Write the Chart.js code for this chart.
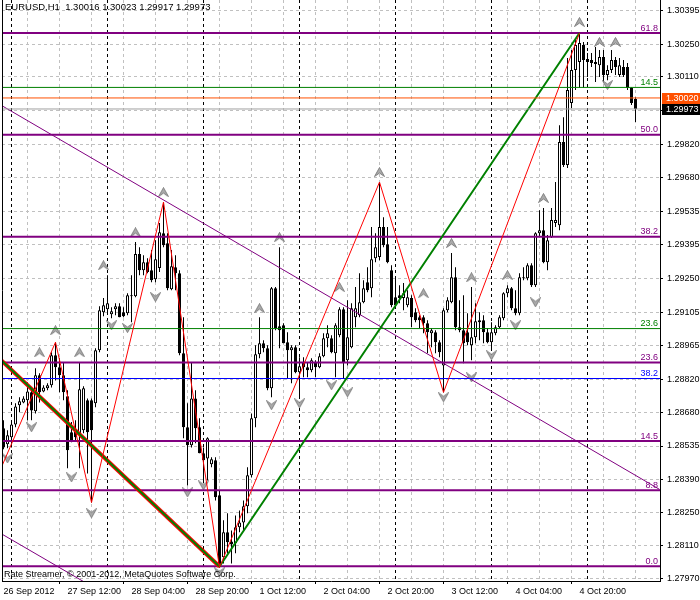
<!DOCTYPE html>
<html>
<head>
<meta charset="utf-8">
<script src="https://cdn.jsdelivr.net/npm/chart.js@4.4.0/dist/chart.umd.min.js"></script>
<style>
  html, body { margin: 0; padding: 0; background: #fff; }
  #wrap { width: 700px; height: 600px; position: relative; }
</style>
</head>
<body>
<div id="wrap"><canvas id="myChart"></canvas></div>
<script>
// EURUSD H1 candles, bar 0 = 26 Sep 2012 20:00
const opens = [
  1.28611, 1.28542, 1.28572, 1.28627, 1.28709, 1.28721, 1.28730, 1.28764, 1.28683, 1.28837,
  1.28768, 1.28781, 1.28794, 1.28922, 1.28871, 1.28837, 1.28747, 1.28594, 1.28602, 1.28589,
  1.28602, 1.28730, 1.28730, 1.28717, 1.28944, 1.29106, 1.29119, 1.29097, 1.29119, 1.29131,
  1.29106, 1.29101, 1.29174, 1.29174, 1.29354, 1.29285, 1.29319, 1.29285, 1.29247, 1.29294,
  1.29443, 1.29400, 1.29204, 1.29298, 1.29272, 1.28931, 1.28615, 1.28538, 1.28738, 1.28615,
  1.28504, 1.28482, 1.28457, 1.28474, 1.28325, 1.28060, 1.28167, 1.28128, 1.28120, 1.28188,
  1.28209, 1.28278, 1.28410, 1.28653, 1.28926, 1.28973, 1.28952, 1.28781, 1.29208, 1.29046,
  1.29050, 1.28978, 1.28944, 1.28956, 1.28850, 1.28892, 1.28871, 1.28858, 1.28892, 1.28871,
  1.28918, 1.28995, 1.28995, 1.28931, 1.29008, 1.29119, 1.28901, 1.28956, 1.29084, 1.29093,
  1.29148, 1.29234, 1.29208, 1.29336, 1.29341, 1.29469, 1.29396, 1.29285, 1.29170, 1.29178,
  1.29166, 1.29136, 1.29166, 1.29106, 1.29084, 1.29084, 1.29059, 1.29016, 1.29020, 1.28978,
  1.28879, 1.29114, 1.29148, 1.29255, 1.29042, 1.29029, 1.29020, 1.28965, 1.28999, 1.29063,
  1.29072, 1.29020, 1.28978, 1.29016, 1.29042, 1.29080, 1.29187, 1.29208, 1.29123, 1.29101,
  1.29251, 1.29251, 1.29306, 1.29221, 1.29443, 1.29456, 1.29319, 1.29426, 1.29486, 1.29477,
  1.29832, 1.29734, 1.29998, 1.30139, 1.30173, 1.30246, 1.30186, 1.30182, 1.30173, 1.30160,
  1.30195, 1.30118, 1.30139, 1.30182, 1.30118, 1.30152, 1.30152, 1.30062, 1.30016
];
const highs = [
  1.28645, 1.28602, 1.28645, 1.28717, 1.28743, 1.28747, 1.28807, 1.28785, 1.28867, 1.28845,
  1.28794, 1.28803, 1.28935, 1.28978, 1.28909, 1.28892, 1.28773, 1.28637, 1.28645, 1.28892,
  1.28790, 1.28738, 1.28738, 1.28952, 1.29131, 1.29166, 1.29264, 1.29127, 1.29144, 1.29144,
  1.29127, 1.29187, 1.29264, 1.29405, 1.29383, 1.29349, 1.29336, 1.29371, 1.29413, 1.29486,
  1.29576, 1.29443, 1.29371, 1.29349, 1.29285, 1.29084, 1.28717, 1.28892, 1.28773, 1.28653,
  1.28529, 1.28572, 1.28487, 1.28487, 1.28346, 1.28218, 1.28248, 1.28175, 1.28239, 1.28260,
  1.28303, 1.28444, 1.28674, 1.28965, 1.29084, 1.28986, 1.28965, 1.29213, 1.29213, 1.29383,
  1.29059, 1.29020, 1.28965, 1.28965, 1.28914, 1.28914, 1.28892, 1.28909, 1.28901, 1.28931,
  1.29016, 1.29050, 1.29008, 1.29059, 1.29127, 1.29127, 1.29157, 1.29144, 1.29213, 1.29272,
  1.29242, 1.29298, 1.29469, 1.29443, 1.29661, 1.29511, 1.29469, 1.29306, 1.29255, 1.29221,
  1.29230, 1.29200, 1.29178, 1.29123, 1.29093, 1.29093, 1.29072, 1.29038, 1.29029, 1.28986,
  1.29123, 1.29170, 1.29358, 1.29298, 1.29157, 1.29178, 1.29101, 1.29213, 1.29144, 1.29106,
  1.29093, 1.29038, 1.29063, 1.29050, 1.29093, 1.29191, 1.29221, 1.29213, 1.29200, 1.29272,
  1.29298, 1.29315, 1.29315, 1.29447, 1.29541, 1.29550, 1.29435, 1.29550, 1.29661, 1.29904,
  1.29938, 1.30190, 1.30225, 1.30267, 1.30297, 1.30259, 1.30212, 1.30212, 1.30237, 1.30225,
  1.30225, 1.30160, 1.30225, 1.30195, 1.30190, 1.30182, 1.30169, 1.30066, 1.30023
];
const lows = [
  1.28521, 1.28525, 1.28529, 1.28615, 1.28679, 1.28717, 1.28645, 1.28645, 1.28674, 1.28721,
  1.28764, 1.28773, 1.28785, 1.28815, 1.28764, 1.28730, 1.28440, 1.28551, 1.28559, 1.28440,
  1.28589, 1.28418, 1.28294, 1.28700, 1.28935, 1.29089, 1.29097, 1.29080, 1.29093, 1.29084,
  1.29084, 1.29093, 1.29063, 1.29170, 1.29264, 1.29264, 1.29272, 1.29234, 1.29234, 1.29277,
  1.29383, 1.29200, 1.29200, 1.29200, 1.28922, 1.28568, 1.28367, 1.28529, 1.28547, 1.28504,
  1.28376, 1.28388, 1.28444, 1.28303, 1.28017, 1.28034, 1.28077, 1.28034, 1.28077, 1.28167,
  1.28175, 1.28248, 1.28401, 1.28615, 1.28909, 1.28935, 1.28773, 1.28743, 1.29029, 1.28952,
  1.28973, 1.28824, 1.28803, 1.28845, 1.28743, 1.28828, 1.28828, 1.28850, 1.28828, 1.28867,
  1.28914, 1.28956, 1.28931, 1.28828, 1.28999, 1.28824, 1.28879, 1.28952, 1.29042, 1.29084,
  1.29144, 1.29191, 1.29170, 1.29319, 1.29328, 1.29383, 1.29315, 1.29127, 1.29127, 1.29144,
  1.29114, 1.29127, 1.29042, 1.29063, 1.29038, 1.29016, 1.28931, 1.28956, 1.28931, 1.28914,
  1.28764, 1.29106, 1.29144, 1.29029, 1.29020, 1.28888, 1.28965, 1.28901, 1.28973, 1.28986,
  1.28973, 1.28973, 1.28952, 1.29008, 1.29038, 1.29072, 1.29170, 1.29114, 1.29093, 1.29093,
  1.29242, 1.29242, 1.29213, 1.29213, 1.29426, 1.29315, 1.29285, 1.29422, 1.29469, 1.29456,
  1.29725, 1.29721, 1.29977, 1.30054, 1.30062, 1.30062, 1.30109, 1.30152, 1.30088, 1.30109,
  1.30088, 1.30096, 1.30126, 1.30118, 1.30109, 1.30109, 1.30054, 1.29990, 1.29917
];
const closes = [
  1.28529, 1.28581, 1.28627, 1.28704, 1.28726, 1.28738, 1.28768, 1.28687, 1.28837, 1.28764,
  1.28785, 1.28794, 1.28922, 1.28871, 1.28837, 1.28764, 1.28517, 1.28559, 1.28572, 1.28777,
  1.28781, 1.28594, 1.28602, 1.28944, 1.29114, 1.29136, 1.29144, 1.29110, 1.29131, 1.29084,
  1.29089, 1.29178, 1.29178, 1.29354, 1.29285, 1.29319, 1.29277, 1.29242, 1.29332, 1.29447,
  1.29392, 1.29208, 1.29302, 1.29272, 1.28931, 1.28615, 1.28538, 1.28738, 1.28611, 1.28504,
  1.28474, 1.28568, 1.28478, 1.28316, 1.28026, 1.28167, 1.28124, 1.28115, 1.28188, 1.28209,
  1.28278, 1.28410, 1.28653, 1.28926, 1.28973, 1.28952, 1.28781, 1.29208, 1.29038, 1.29029,
  1.28973, 1.28944, 1.28956, 1.28850, 1.28875, 1.28871, 1.28858, 1.28901, 1.28871, 1.28918,
  1.28995, 1.29016, 1.28935, 1.29050, 1.29119, 1.28892, 1.28999, 1.29123, 1.29123, 1.29148,
  1.29208, 1.29200, 1.29332, 1.29383, 1.29469, 1.29392, 1.29319, 1.29136, 1.29136, 1.29166,
  1.29187, 1.29170, 1.29084, 1.29072, 1.29072, 1.29059, 1.29020, 1.29029, 1.28978, 1.28935,
  1.29114, 1.29157, 1.29255, 1.29042, 1.29029, 1.28973, 1.28978, 1.28999, 1.29067, 1.29072,
  1.29020, 1.28978, 1.29020, 1.29042, 1.29084, 1.29187, 1.29208, 1.29123, 1.29101, 1.29255,
  1.29255, 1.29306, 1.29221, 1.29443, 1.29456, 1.29319, 1.29413, 1.29499, 1.29499, 1.29832,
  1.29734, 1.30054, 1.30139, 1.30246, 1.30255, 1.30182, 1.30173, 1.30169, 1.30165, 1.30195,
  1.30118, 1.30139, 1.30182, 1.30152, 1.30160, 1.30118, 1.30062, 1.29998, 1.29973
];

// time axis
const xLabelIdx = [0, 16, 32, 48, 64, 80, 96, 112, 128, 144];
const xLabels = ['26 Sep 2012', '27 Sep 12:00', '28 Sep 04:00', '28 Sep 20:00', '1 Oct 12:00',
  '2 Oct 04:00', '2 Oct 20:00', '3 Oct 12:00', '4 Oct 04:00', '4 Oct 20:00'];
const daySeparators = [4, 28, 52, 76, 100, 124, 148];

// price axis
const yTicks = [1.30395, 1.30250, 1.30110, 1.29965, 1.29820, 1.29680, 1.29535, 1.29395, 1.29250,
  1.29105, 1.28965, 1.28820, 1.28680, 1.28535, 1.28390, 1.28250, 1.28110, 1.27970];
const hiddenTick = 1.29965;

// fibo levels
const fiboLevels = [0, 8.8, 14.5, 23.6, 38.2, 50, 61.8];
const fiboPrices = [1.28022, 1.28346, 1.28556, 1.28891, 1.29428, 1.29863, 1.30297];
const greenLevels = [14.5, 23.6];
const greenPrices = [1.30065, 1.29036];
const blueLevels = [38.2];
const bluePrices = [1.28823];

// zigzag, channel and trend lines (bar index, price)
const zigzagIdx = [-4, 13, 22, 40, 54, 94, 110, 144];
const zigzagPrice = [1.28307, 1.28978, 1.28294, 1.29576, 1.28017, 1.29661, 1.28764, 1.30297];
const channelIdx = [-1, 54, 144];
const channelPrice = [1.28908, 1.28021, 1.30297];
const trendUpperIdx = [-1, 164];
const trendUpperPrice = [1.29993, 1.28350];
const trendLowerIdx = [-1, 24];
const trendLowerPrice = [1.28165, 1.27917];

// fractals
const fractalUpIdx = [9, 13, 19, 25, 33, 40, 64, 69, 84, 94, 105, 112, 117, 126, 135, 144, 149, 153];
const fractalUpPrice = [1.28935, 1.29029, 1.28935, 1.29306, 1.29447, 1.29618, 1.29123, 1.29426, 1.29213,
  1.29704, 1.29187, 1.29401, 1.29255, 1.29264, 1.29593, 1.30344, 1.30259, 1.30259];
const fractalDownIdx = [1, 7, 17, 22, 27, 31, 38, 46, 50, 54, 67, 74, 82, 86, 110, 117, 122, 128, 133, 151];
const fractalDownPrice = [1.28482, 1.28615, 1.28401, 1.28248, 1.29050, 1.29038, 1.29170, 1.28337, 1.28367,
  1.27996, 1.28709, 1.28717, 1.28794, 1.28764, 1.28743, 1.28828, 1.28922, 1.29050, 1.29148, 1.30075];

const askPrice = 1.30020;
const bidPrice = 1.29973;

const xMin = -0.375, xMax = 164.125;
const yMin = 1.27959, yMax = 1.30438;
const FONT = "'Liberation Sans', Arial, sans-serif";

const last = closes.length - 1;
const header = 'EURUSD,H1  ' + [opens[last], highs[last], lows[last], closes[last]].map(v => v.toFixed(5)).join(' ');

function pts(idx, prices) {
  return idx.map((x, k) => ({ x: x, y: prices[k] }));
}
function hline(price) {
  return [{ x: xMin, y: price }, { x: xMax, y: price }];
}
function lineSet(data, color, width, order, extra) {
  return Object.assign({
    type: 'line', data: data, borderColor: color, borderWidth: width,
    pointRadius: 0, tension: 0, fill: false, order: order, clip: 0
  }, extra || {});
}
function arrowImage(up) {
  const c = document.createElement('canvas');
  c.width = 11; c.height = 10;
  const g = c.getContext('2d');
  g.beginPath();
  if (up) {
    g.moveTo(5.5, 0.5); g.lineTo(10.5, 9.5); g.lineTo(5.5, 6); g.lineTo(0.5, 9.5);
  } else {
    g.moveTo(5.5, 9.5); g.lineTo(10.5, 0.5); g.lineTo(5.5, 4); g.lineTo(0.5, 0.5);
  }
  g.closePath();
  g.fillStyle = '#aaaaaa'; g.fill();
  g.strokeStyle = '#808080'; g.lineWidth = 1; g.stroke();
  return c;
}
function noPadding(s) {
  s.paddingLeft = 0; s.paddingRight = 0; s.paddingTop = 0; s.paddingBottom = 0;
}

const datasets = [];
datasets.push(lineSet(hline(askPrice), '#ff5000', 1, 1));
datasets.push(lineSet(hline(bidPrice), '#a0a0a0', 1, 1));
datasets.push(lineSet(pts(zigzagIdx, zigzagPrice), '#ff0000', 1, 2));
datasets.push(lineSet(pts(channelIdx, channelPrice), '#008000', 2, 3));
datasets.push(lineSet(pts(channelIdx.slice(0, 2), channelPrice.slice(0, 2)), '#ff0000', 4, 4));
fiboPrices.forEach(p => datasets.push(lineSet(hline(p), '#800080', 2, 5)));
greenPrices.forEach(p => datasets.push(lineSet(hline(p), '#008000', 1, 5)));
bluePrices.forEach(p => datasets.push(lineSet(hline(p), '#0000ff', 1, 5)));
datasets.push(lineSet(pts(trendUpperIdx, trendUpperPrice), '#800080', 1, 6));
datasets.push(lineSet(pts(trendLowerIdx, trendLowerPrice), '#800080', 1, 6));
datasets.push({
  type: 'line', data: pts(fractalUpIdx, fractalUpPrice), showLine: false,
  pointStyle: arrowImage(true), pointRadius: 5, order: 7
});
datasets.push({
  type: 'line', data: pts(fractalDownIdx, fractalDownPrice), showLine: false,
  pointStyle: arrowImage(false), pointRadius: 5, order: 7
});
datasets.push({
  type: 'bar',
  data: opens.map((o, i) => ({ x: i, y: [o, closes[i]] })),
  backgroundColor: opens.map((o, i) => closes[i] >= o ? '#ffffff' : '#000000'),
  borderColor: '#000000', borderWidth: 1, borderSkipped: false,
  barThickness: 3, grouped: false, inflateAmount: 0, order: 8
});
datasets.push({
  type: 'bar',
  data: lows.map((l, i) => ({ x: i, y: [l, highs[i]] })),
  backgroundColor: '#000000', borderWidth: 0,
  barThickness: 1, grouped: false, inflateAmount: 0, order: 9
});

const textPlugin = {
  id: 'mtText',
  afterDatasetsDraw(chart) {
    const ctx = chart.ctx, area = chart.chartArea, ys = chart.scales.y;
    ctx.save();
    ctx.font = '9px ' + FONT;
    ctx.textAlign = 'right';
    ctx.textBaseline = 'alphabetic';
    const groups = [[fiboLevels, fiboPrices, '#800080'], [greenLevels, greenPrices, '#008000'], [blueLevels, bluePrices, '#0000ff']];
    groups.forEach(([lv, pr, col]) => {
      ctx.fillStyle = col;
      lv.forEach((l, k) => ctx.fillText(l.toFixed(1), area.right - 2, ys.getPixelForValue(pr[k]) - 2.5));
    });
    ctx.fillStyle = '#000';
    ctx.textAlign = 'left';
    ctx.textBaseline = 'middle';
    ctx.font = '9.5px ' + FONT;
    ctx.fillText(header, 5, 7);
    ctx.font = '9px ' + FONT;
    ctx.fillText('Rate Streamer, \u00a9 2001-2012, MetaQuotes Software Corp.', 4, 575);
    ctx.restore();
  },
  afterDraw(chart) {
    const ctx = chart.ctx, area = chart.chartArea, ys = chart.scales.y;
    ctx.save();
    ctx.strokeStyle = '#000';
    ctx.lineWidth = 1;
    ctx.beginPath();
    ctx.moveTo(area.left + 0.5, area.top);
    ctx.lineTo(area.left + 0.5, area.bottom);
    ctx.stroke();
    ctx.font = '9px ' + FONT;
    ctx.textBaseline = 'middle';
    ctx.textAlign = 'left';
    [[askPrice, '#ff5000'], [bidPrice, '#000000']].forEach(([p, col]) => {
      const y = Math.round(ys.getPixelForValue(p));
      ctx.fillStyle = col;
      ctx.fillRect(area.right + 2, y - 5, 40, 11);
      ctx.fillStyle = '#fff';
      ctx.fillText(p.toFixed(5), area.right + 6, y + 0.5);
    });
    ctx.restore();
  }
};

Chart.defaults.font.family = FONT;
Chart.defaults.font.size = 9;
Chart.defaults.color = '#000';

const ctx = document.getElementById('myChart').getContext('2d');
const myChart = new Chart(ctx, {
  type: 'bar',
  data: { datasets: datasets },
  options: {
    responsive: true,
    maintainAspectRatio: false,
    animation: false,
    layout: { autoPadding: false, padding: { left: 2, top: 0, right: 0, bottom: 0 } },
    plugins: { legend: { display: false }, tooltip: { enabled: false } },
    scales: {
      x: {
        type: 'linear', min: xMin, max: xMax, offset: false,
        afterBuildTicks: s => {
          const t = [];
          for (let v = 0; v <= 164; v += 4) t.push({ value: v });
          s.ticks = t;
        },
        afterFit: s => { s.height = 19; noPadding(s); },
        ticks: {
          autoSkip: false, maxRotation: 0, align: 'start', padding: 2,
          callback: v => {
            const k = xLabelIdx.indexOf(v);
            return k >= 0 ? xLabels[k] : '';
          }
        },
        grid: {
          color: c => {
            const v = c.tick ? c.tick.value : -1;
            if (daySeparators.includes(v)) return '#000000';
            if (v % 8 === 0) return '#c0c0c0';
            return 'rgba(0,0,0,0)';
          },
          tickColor: c => (c.tick && xLabelIdx.includes(c.tick.value)) ? '#000' : 'rgba(0,0,0,0)',
          tickLength: 3, lineWidth: 1
        },
        border: { display: true, color: '#000', width: 1, dash: [3, 3] }
      },
      y: {
        type: 'linear', position: 'right', min: yMin, max: yMax,
        afterBuildTicks: s => { s.ticks = yTicks.map(v => ({ value: v })); },
        afterFit: s => { s.width = 40; noPadding(s); },
        ticks: {
          autoSkip: false, padding: 4,
          callback: v => v === hiddenTick ? '' : v.toFixed(5)
        },
        grid: { color: '#c0c0c0', tickColor: '#000', tickLength: 3, lineWidth: 1 },
        border: { display: true, color: '#000', width: 1, dash: [3, 3] }
      }
    }
  },
  plugins: [textPlugin]
});
</script>
</body>
</html>
